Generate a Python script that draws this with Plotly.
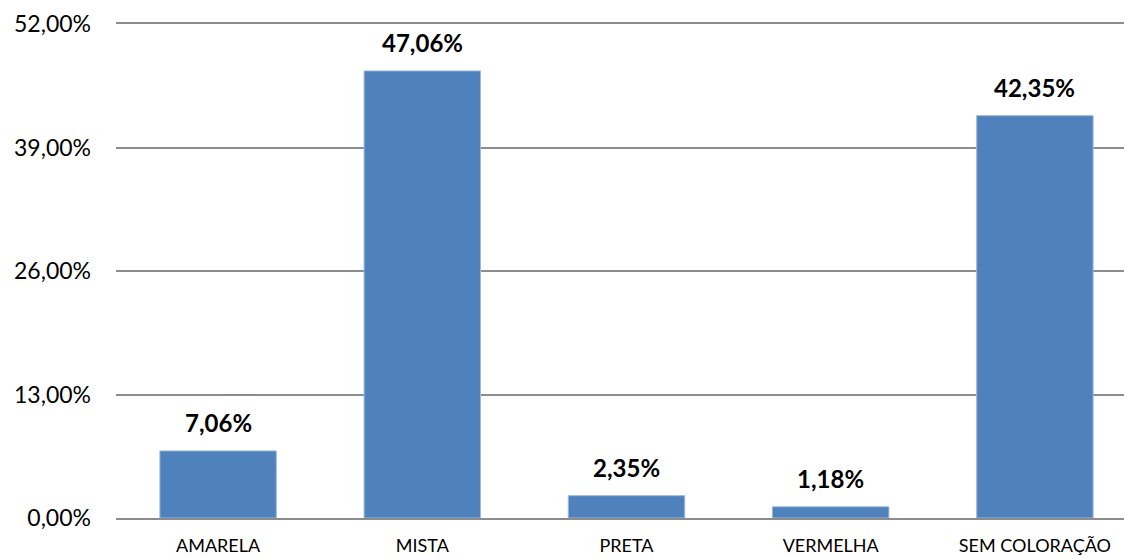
import plotly.graph_objects as go

# Dados
categorias = ['AMARELA', 'MISTA', 'PRETA', 'VERMELHA', 'SEM COLORAÇÃO']
percentuais = [7.06, 47.06, 2.35, 1.18, 42.35]
ticks_y = [0, 13, 26, 39, 52]

fig = go.Figure(go.Bar(
    x=categorias,
    y=percentuais,
    marker=dict(color='#4F81BD', line=dict(color='#9DB8DB', width=1)),
    hoverinfo='x+y',
))

# rótulos acima das barras
for cat, val in zip(categorias, percentuais):
    fig.add_annotation(
        x=cat, y=val,
        text='<b>' + f'{val:.2f}'.replace('.', ',') + '%</b>',
        showarrow=False,
        yanchor='bottom',
        yshift=12,
        font=dict(size=24, color='black', family='Lato'),
    )

# a página tem margem de 8px no body, por isso as margens compensam
fig.update_layout(
    width=1132, height=559,
    margin=dict(l=108, r=3, t=16, b=49, autoexpand=False),
    plot_bgcolor='white',
    paper_bgcolor='white',
    separators=',.',
    bargap=0.43,
    showlegend=False,
    font=dict(family='Lato', color='black'),
)

fig.update_yaxes(
    range=[0, 52],
    tickmode='array',
    tickvals=ticks_y,
    ticktext=[f'{t:.2f}'.replace('.', ',') + '%' for t in ticks_y],
    showgrid=True,
    gridcolor='#8C8C8C',
    gridwidth=1.5,
    zeroline=False,
    tickfont=dict(size=23),
    ticklabelstandoff=24,
    automargin=False,
)

fig.update_xaxes(
    range=[-0.5, 4.5],
    showline=True,
    mirror=True,
    linecolor='#8C8C8C',
    linewidth=1.5,
    tickfont=dict(size=18),
    ticklabelstandoff=11,
    automargin=False,
)

fig.write_html('out.html')
